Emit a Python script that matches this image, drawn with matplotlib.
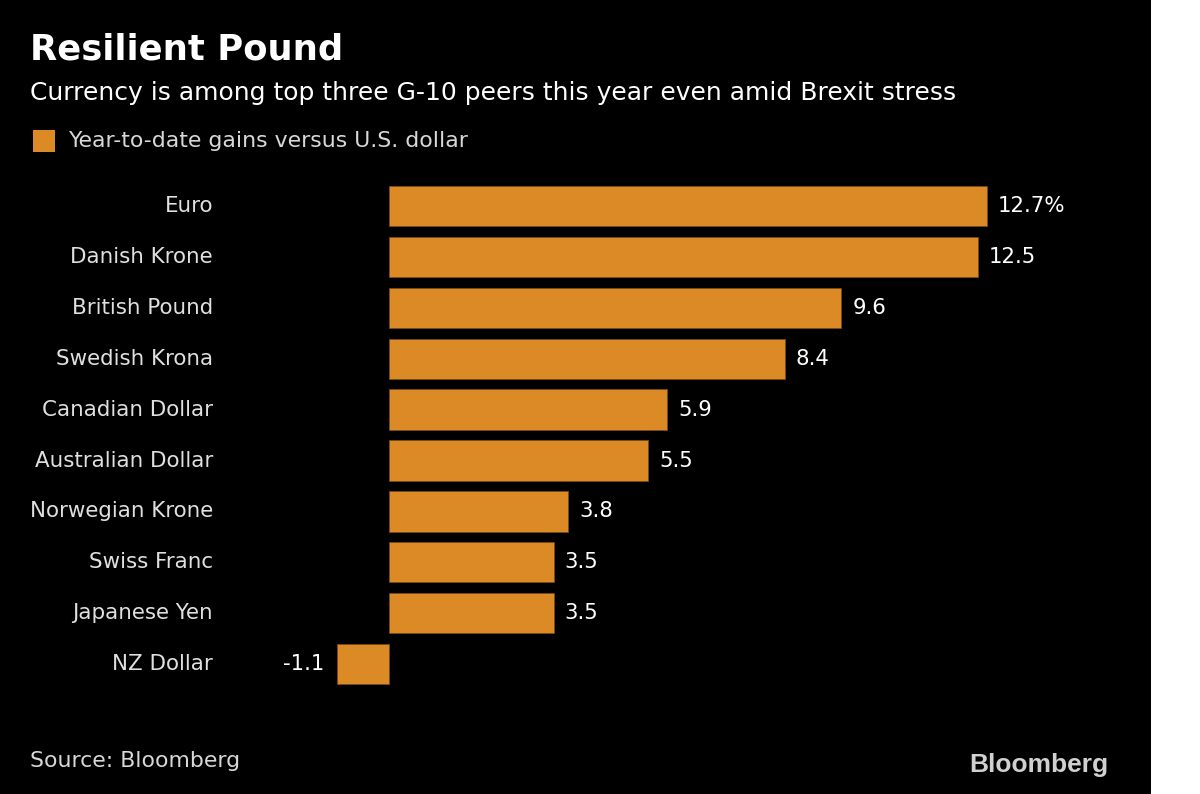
import numpy as np
import matplotlib.pyplot as plt
from matplotlib.patches import Rectangle

currencies = ['Euro', 'Danish Krone', 'British Pound', 'Swedish Krona', 'Canadian Dollar',
              'Australian Dollar', 'Norwegian Krone', 'Swiss Franc', 'Japanese Yen', 'NZ Dollar']
gains = [12.7, 12.5, 9.6, 8.4, 5.9, 5.5, 3.8, 3.5, 3.5, -1.1]
value_labels = ['12.7%', '12.5', '9.6', '8.4', '5.9', '5.5', '3.8', '3.5', '3.5', '-1.1']

BAR = '#dc8a26'
W, H = 1200, 794

fig = plt.figure(figsize=(12, 7.94), dpi=100)
fig.patch.set_facecolor('white')
fig.add_artist(Rectangle((0, 0), 1151 / W, 1, transform=fig.transFigure,
                         facecolor='black', edgecolor='none', zorder=0))

# axes in pixel coords: x 300..1100, y 180.5..689.6 (from top)
ax = fig.add_axes([300 / W, 1 - 689.6 / H, 800 / W, (689.6 - 180.5) / H])
ax.set_facecolor('none')
scale = 47.1  # px per unit
ax.set_xlim(-89 / scale, 711 / scale)
ax.set_ylim(9.5, -0.5)

y = np.arange(len(currencies))
ax.barh(y, gains, height=0.79, color=BAR, edgecolor='#7a4a10', linewidth=0.6)
for yi, v, lab in zip(y, gains, value_labels):
    if v >= 0:
        ax.annotate(lab, (v, yi), xytext=(11, 0), textcoords='offset pixels',
                    ha='left', va='center', color='white', fontsize=15.3)
    else:
        ax.annotate(lab, (v, yi), xytext=(-13, 0), textcoords='offset pixels',
                    ha='right', va='center', color='white', fontsize=15.3)
    ax.annotate(currencies[yi], (0, yi), xycoords=('axes fraction', 'data'),
                xytext=(-87, 0), textcoords='offset pixels',
                ha='right', va='center', color='#e0e0e0', fontsize=15.4)
ax.axis('off')

fig.text(30 / W, 1 - 49 / H, 'Resilient Pound', color='white', fontsize=25.5,
         fontweight='bold', va='center', ha='left')
fig.text(30 / W, 1 - 93 / H, 'Currency is among top three G-10 peers this year even amid Brexit stress',
         color='white', fontsize=18, va='center', ha='left')
fig.add_artist(Rectangle((33 / W, 1 - 152 / H), 22 / W, 22 / H, transform=fig.transFigure,
                         facecolor=BAR, edgecolor='none'))
fig.text(68 / W, 1 - 141 / H, 'Year-to-date gains versus U.S. dollar', color='#d8d8d8',
         fontsize=15.8, va='center', ha='left')
fig.text(30 / W, 1 - 761 / H, 'Source: Bloomberg', color='#d8d8d8', fontsize=15.8,
         va='center', ha='left')
fig.text(1108 / W, 1 - 765 / H, 'Bloomberg', color='#d0d0d0', fontsize=19,
         fontweight='bold', va='center', ha='right', family='Liberation Sans')

plt.savefig('out.png', dpi=100, facecolor=fig.get_facecolor())
